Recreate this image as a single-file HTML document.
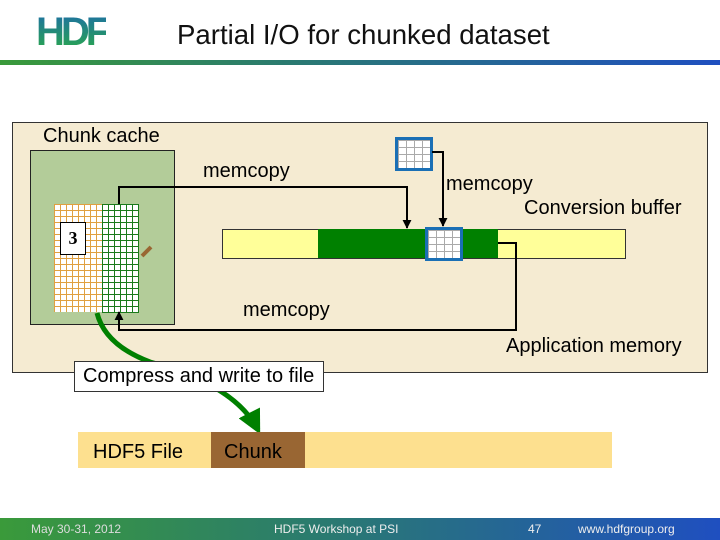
<!DOCTYPE html>
<html><head><style>
body{margin:0;width:720px;height:540px;overflow:hidden;background:#fff;font-family:"Liberation Sans",sans-serif;position:relative}
.a{position:absolute}
.t{position:absolute;font-size:20px;color:#000;white-space:nowrap}
</style></head><body>
<div class="a" style="left:36px;top:12px;font:bold 40px 'Liberation Sans',sans-serif;letter-spacing:-4px;background:linear-gradient(180deg,#1d6fa5,#2aa84a);-webkit-background-clip:text;color:transparent;line-height:40px">HDF</div>
<div class="t" style="left:177px;top:19px;font-size:27.6px;color:#111">Partial I/O for chunked dataset</div>
<div class="a" style="left:0;top:60px;width:720px;height:5px;background:linear-gradient(90deg,#3a9a3a,#2a7a70 40%,#1f4fc0)"></div>

<div class="a" style="left:12px;top:122px;width:694px;height:249px;background:#f5ebd2;border:1px solid #333"></div>
<div class="t" style="left:43px;top:125px">Chunk cache</div>
<div class="a" style="left:30px;top:150px;width:143px;height:173px;background:#b3cc99;border:1px solid #222"></div>
<div class="a" style="left:54px;top:204px;width:48px;height:108px;background-color:#fff;background-image:linear-gradient(90deg,#e0a040 1px,transparent 1px),linear-gradient(#e0a040 1px,transparent 1px);background-size:6px 6px"></div>
<div class="a" style="left:102px;top:204px;width:36px;height:108px;background-color:#fff;background-image:linear-gradient(90deg,#1a7a1a 1px,transparent 1px),linear-gradient(#1a7a1a 1px,transparent 1px);background-size:6px 6px;border-right:1px solid #1a7a1a;border-bottom:1px solid #1a7a1a"></div>
<div class="a" style="left:60px;top:222px;width:24px;height:31px;background:#fff;border:1px solid #000;font:bold 18px 'Liberation Serif',serif;text-align:center;line-height:31px">3</div>

<div class="a" style="left:222px;top:229px;width:402px;height:28px;background:#ffff99;border:1px solid #333"></div>
<div class="a" style="left:318px;top:229px;width:180px;height:29px;background:#008000"></div>
<div class="a" style="left:395px;top:137px;width:32px;height:28px;border:3px solid #1a6fb5;background-color:#fff;background-image:linear-gradient(90deg,#aaa 1px,transparent 1px),linear-gradient(#aaa 1px,transparent 1px);background-size:8px 7px"></div>
<div class="a" style="left:425px;top:227px;width:32px;height:28px;border:3px solid #1a6fb5;background-color:#fff;background-image:linear-gradient(90deg,#aaa 1px,transparent 1px),linear-gradient(#aaa 1px,transparent 1px);background-size:8px 7px"></div>

<svg class="a" style="left:0;top:0" width="720" height="540">
<defs>
<marker id="ar" viewBox="0 0 10 10" markerWidth="9" markerHeight="9" refX="9" refY="5" orient="auto" markerUnits="userSpaceOnUse"><path d="M0,0L10,5L0,10z" fill="#000"/></marker>
<marker id="gr" viewBox="0 0 10 10" markerWidth="24" markerHeight="24" refX="8" refY="5" orient="auto" markerUnits="userSpaceOnUse"><path d="M0,0L10,5L0,10z" fill="#008000"/></marker></defs>
<g fill="none" stroke="#000" stroke-width="2">
<path d="M119 204V187H407V228" marker-end="url(#ar)"/>
<path d="M432 152H443V226" marker-end="url(#ar)"/>
<path d="M498 243H516V330H119V312" marker-end="url(#ar)"/>
</g>
<line x1="142" y1="256" x2="151" y2="247" stroke="#996633" stroke-width="4"/>
<path d="M97 313 Q105 345 150 362 Q235 385 258 430" fill="none" stroke="#008000" stroke-width="5" marker-end="url(#gr)"/>
</svg>
<div class="t" style="left:203px;top:160px">memcopy</div>
<div class="t" style="left:446px;top:173px">memcopy</div>
<div class="t" style="left:524px;top:197px">Conversion buffer</div>
<div class="t" style="left:243px;top:299px">memcopy</div>
<div class="t" style="left:506px;top:335px">Application memory</div>

<div class="a" style="left:74px;top:361px;width:248px;height:29px;background:#fff;border:1px solid #333"></div>
<div class="t" style="left:83px;top:365px">Compress and write to file</div>
<div class="a" style="left:78px;top:432px;width:534px;height:36px;background:#fde08f"></div>
<div class="a" style="left:211px;top:432px;width:94px;height:36px;background:#996633"></div>
<div class="t" style="left:93px;top:441px">HDF5 File</div>
<div class="t" style="left:224px;top:441px">Chunk</div>

<div class="a" style="left:0;top:518px;width:720px;height:22px;background:linear-gradient(90deg,#3a9a3a,#2a7a70 45%,#1f4fc0)"></div>
<div class="t" style="left:31px;top:522px;font-size:12px;color:#ddd">May 30-31, 2012</div>
<div class="t" style="left:274px;top:522px;font-size:12px;color:#eee">HDF5 Workshop at PSI</div>
<div class="t" style="left:528px;top:522px;font-size:12px;color:#eee">47</div>
<div class="t" style="left:578px;top:522px;font-size:12px;color:#eee">www.hdfgroup.org</div>
</body></html>
